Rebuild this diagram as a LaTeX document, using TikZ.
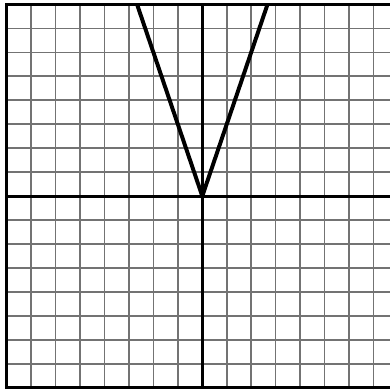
\documentclass[tikz,border=0pt]{standalone}
\usepackage{tikz}
\usetikzlibrary{calc}

\begin{document}
\begin{tikzpicture}[
  x=0.5cm, y=0.4898cm,
  gridline/.style={draw=black!55, line width=1pt},
  frame/.style={draw=black, line width=1.8pt},
  axis/.style={draw=black, line width=1.8pt},
  graphline/.style={draw=black, line width=2.3pt, line join=miter}
]
  \useasboundingbox (-8.274,-8.138) rectangle (7.677,8.188);
  % grid
  \foreach \i in {-7,...,7} {
    \draw[gridline] (\i,-8) -- (\i,8);
    \draw[gridline] (-8,\i) -- (8,\i);
  }
  \draw[frame] (-8,-8) rectangle (8,8);
  % axes
  \coordinate (origin) at (0,0);
  \draw[axis] (-8,0) -- (8,0);
  \draw[axis] (0,-8) -- (0,8);
  % y = 3|x|
  \coordinate (lefttop) at (-8/3,8);
  \coordinate (righttop) at (8/3,8);
  \draw[graphline] (lefttop) -- (origin) -- (righttop);
\end{tikzpicture}
\end{document}
